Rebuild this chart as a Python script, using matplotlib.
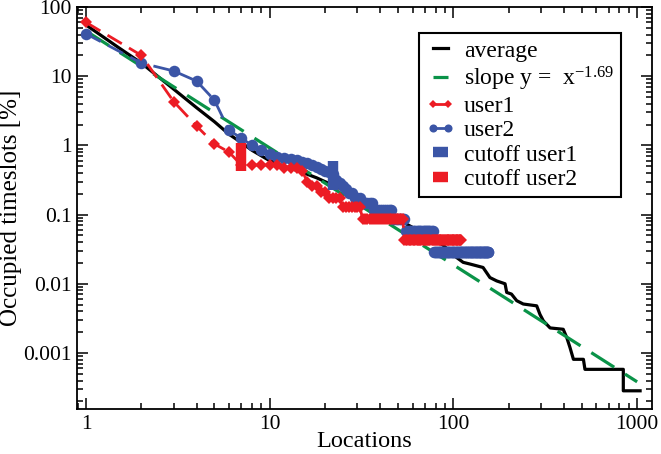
import numpy as np
import matplotlib
matplotlib.use("Agg")
import matplotlib.pyplot as plt

# ---------------- data ----------------
avg_x = [1, 1.5, 2, 3, 4, 5, 6, 7, 8, 10, 12, 14.6, 18, 24, 30, 40, 50, 56, 65, 75, 88,
         104, 113, 123, 145, 158, 172, 191, 195, 207, 221, 240, 284, 296, 309, 336, 396,
         414, 431, 450, 510, 520, 841, 841, 1038]
avg_y = [55, 26, 15.5, 6.5, 3.5, 2.2, 1.45, 1.1, 0.85, 0.6, 0.5, 0.42, 0.34, 0.24, 0.18,
         0.12, 0.086, 0.072, 0.058, 0.047, 0.036, 0.024, 0.0204, 0.0193, 0.0172, 0.0123,
         0.011, 0.01, 0.0075, 0.0071, 0.0057, 0.0051, 0.0048, 0.0036, 0.0029, 0.0023,
         0.0022, 0.00167, 0.0012, 0.00081, 0.00081, 0.00058, 0.00058, 0.000284, 0.000284]

slope_exp = -1.69
slope_coef = 45.0
slope_x = [1.0, 1000.0]

# user1: first ranks individually, then quantised tail levels with run lengths
user1_head = [60, 20, 4.3, 1.9, 1.05, 0.8, 0.52, 0.52, 0.52, 0.52, 0.52, 0.47, 0.47, 0.47,
              0.43, 0.30, 0.26, 0.26, 0.215, 0.215]
user1_tail_levels = [0.172, 0.129, 0.086, 0.043]
user1_tail_runs = [4, 7, 22, 57]

user2_head = [41, 15.5, 11.9, 8.5, 4.5, 1.65, 1.28, 1.0, 0.85, 0.76, 0.69, 0.66, 0.64, 0.61,
              0.58, 0.55, 0.52, 0.49, 0.46, 0.43, 0.41, 0.38]
user2_tail_levels = [0.32, 0.29, 0.26, 0.232, 0.203, 0.174, 0.145, 0.116, 0.087, 0.058, 0.029]
user2_tail_runs = [1, 1, 1, 1, 2, 3, 5, 10, 8, 23, 78]

cut1_x = [22, 22]
cut1_y = [0.6, 0.23]
cut2_x = [7, 7]
cut2_y = [1.1, 0.42]

labels = ["average", "slope y =  x$^{\\mathregular{-1.69}}$", "user1", "user2",
          "cutoff user1", "cutoff user2"]
xticks = [1, 10, 100, 1000]
xticklabels = ["1", "10", "100", "1000"]
yticks = [0.001, 0.01, 0.1, 1, 10, 100]
yticklabels = ["0.001", "0.01", "0.1", "1", "10", "100"]

# ---------------- build series ----------------
u1_y = np.concatenate([user1_head, np.repeat(user1_tail_levels, user1_tail_runs)])
u1_x = np.arange(1, len(u1_y) + 1)
u2_y = np.concatenate([user2_head, np.repeat(user2_tail_levels, user2_tail_runs)])
u2_x = np.arange(1, len(u2_y) + 1)
sl_y = [slope_coef * v ** slope_exp for v in slope_x]

RED = "#ec1c24"
BLUE = "#3b55a6"
GREEN = "#0a9348"

plt.rcParams["font.family"] = ["Liberation Serif", "DejaVu Serif"]
plt.rcParams["mathtext.default"] = "regular"

fig = plt.figure(figsize=(6.61, 4.54), dpi=100)
ax = fig.add_axes([77 / 661, 1 - 409 / 454, (652 - 77) / 661, (409 - 7) / 454])

ax.plot(avg_x, avg_y, color="black", lw=2.3, label=labels[0], zorder=2)
ax.plot(slope_x, sl_y, color=GREEN, lw=2.3, dashes=(8.5, 4.0), label=labels[1], zorder=3)
ax.plot(u1_x, u1_y, color=RED, lw=2.0, dashes=(6, 3), marker="D", ms=6.3, mew=0,
        label=labels[2], zorder=5)
ax.plot(u2_x, u2_y, color=BLUE, lw=2.0, dashes=(6, 3), marker="o", ms=8.3, mew=0,
        label=labels[3], zorder=4)
ax.plot(cut1_x, cut1_y, color=BLUE, lw=7.5, solid_capstyle="butt", label=labels[4], zorder=6)
ax.plot(cut2_x, cut2_y, color=RED, lw=7.5, solid_capstyle="butt", label=labels[5], zorder=6)

ax.set_xscale("log")
ax.set_yscale("log")
ax.set_xlim(0.893, 1205)
ax.set_ylim(1.55e-4, 100)
ax.set_xticks(xticks)
ax.set_xticklabels(xticklabels)
ax.set_yticks(yticks)
ax.set_yticklabels(yticklabels)
ax.xaxis.set_minor_locator(matplotlib.ticker.LogLocator(base=10, subs=np.arange(2, 10), numticks=20))
ax.yaxis.set_minor_locator(matplotlib.ticker.LogLocator(base=10, subs=np.arange(2, 10), numticks=20))
ax.xaxis.set_minor_formatter(matplotlib.ticker.NullFormatter())
ax.yaxis.set_minor_formatter(matplotlib.ticker.NullFormatter())
ax.tick_params(which="both", direction="in", top=True, right=True, width=1.1, labelsize=15.5, pad=4)
ax.tick_params(which="major", length=8)
ax.tick_params(which="minor", length=4.5)
for s in ax.spines.values():
    s.set_linewidth(1.3)

ax.set_xlabel("Locations", fontsize=17.5, labelpad=-2)
ax.set_ylabel("Occupied timeslots [%]", fontsize=18, labelpad=1)

leg = ax.legend(loc="upper right", bbox_to_anchor=((621 - 77) / 575, (409 - 33) / 402),
                borderaxespad=0, fontsize=17, handlelength=1.25, handletextpad=0.35,
                labelspacing=0.12, borderpad=0.3, fancybox=False, framealpha=1,
                edgecolor="black", numpoints=2, markerscale=0.7)
leg.get_frame().set_linewidth(1.5)

fig.savefig("out.png", dpi=100)
